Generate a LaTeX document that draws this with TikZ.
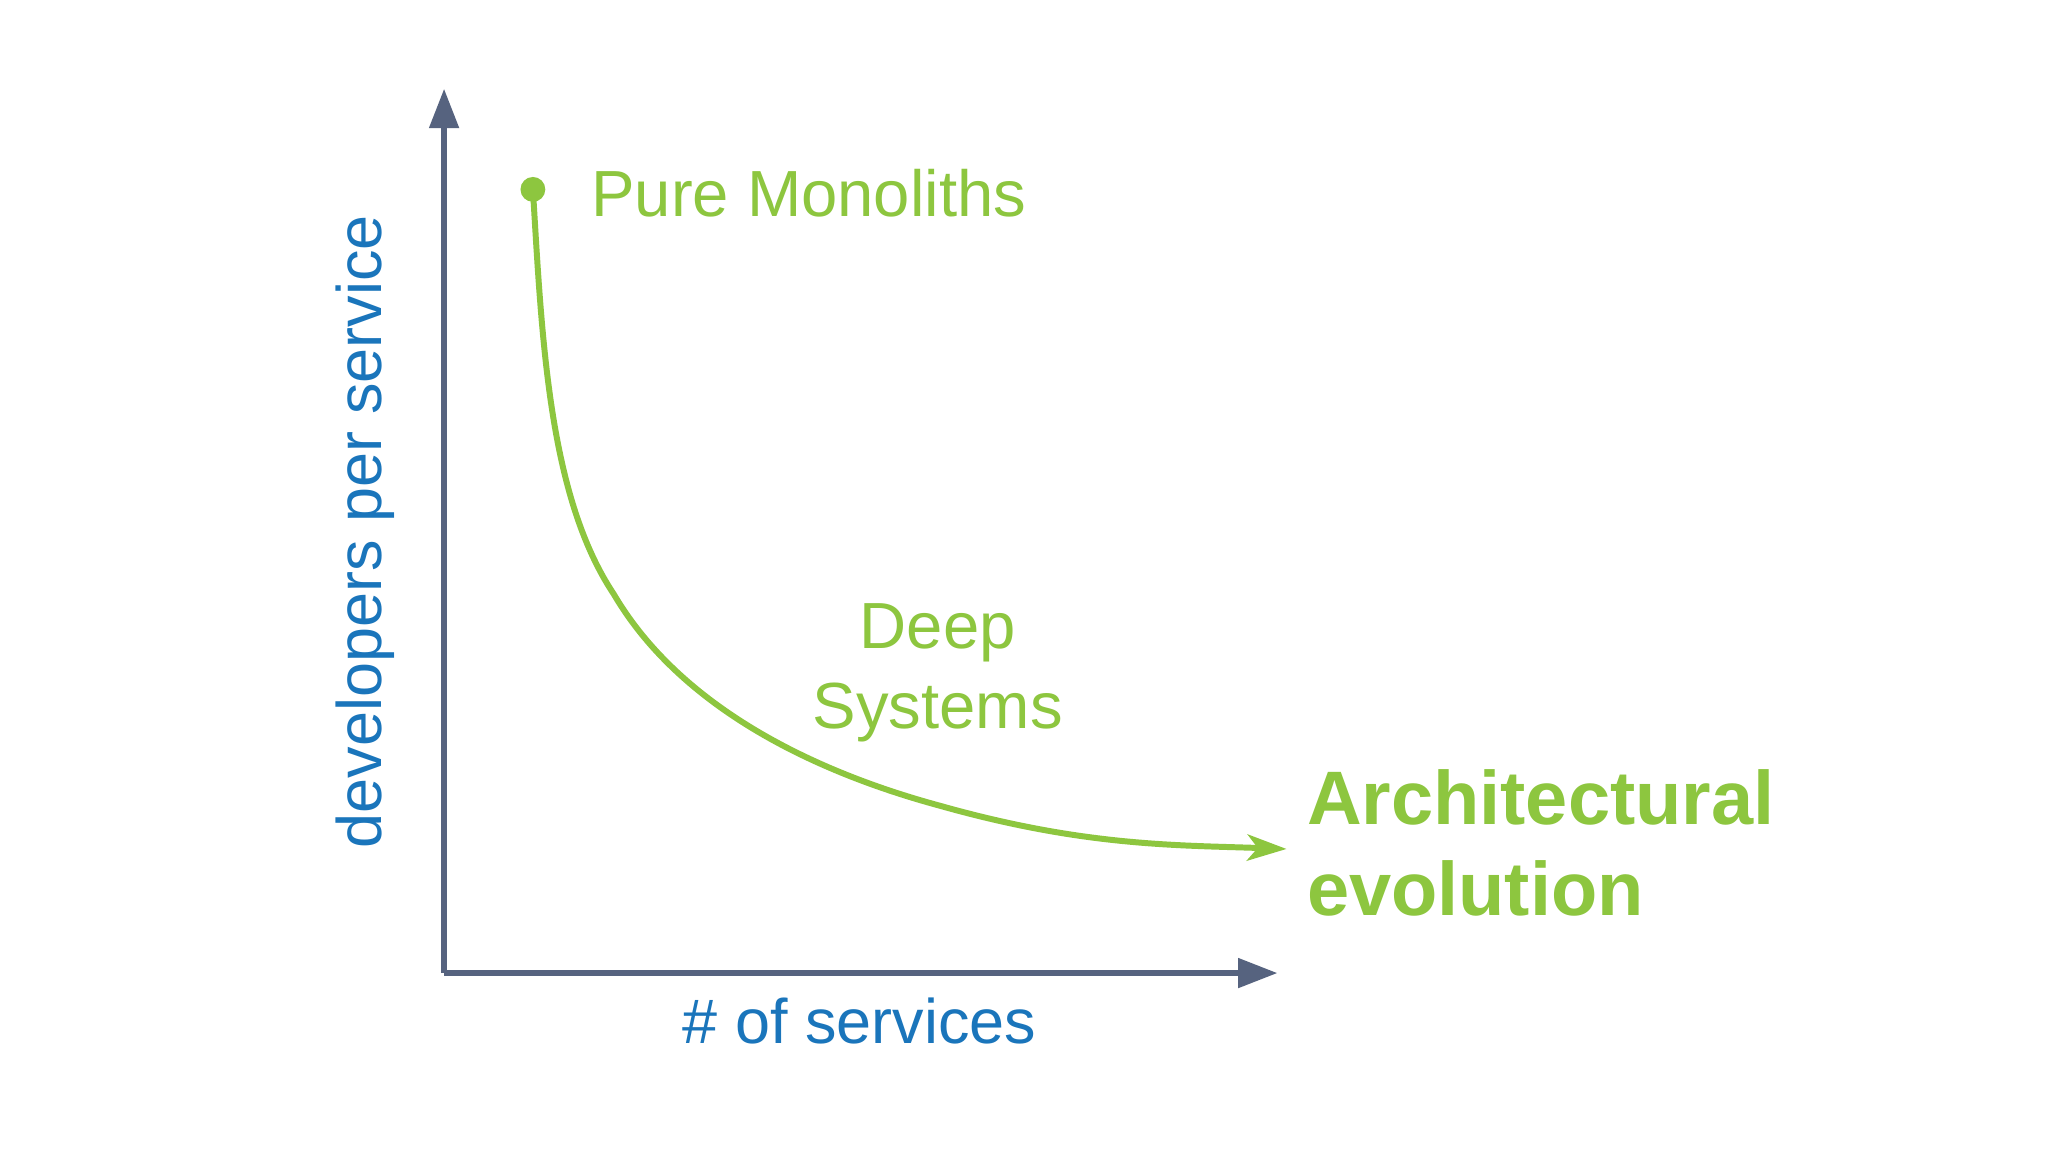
\documentclass[tikz,border=0pt]{standalone}
\usepackage{fontspec}
\setmainfont{Liberation Sans}
\usetikzlibrary{arrows.meta}
\definecolor{axis}{HTML}{56637F}
\definecolor{grn}{HTML}{8DC63F}
\definecolor{blu}{HTML}{1A75BB}
\tikzset{
 axisline/.style={draw=axis,line width=1.2pt,-{Triangle[length=0.3cm,width=0.22cm]}},
 lbl/.style={inner sep=0pt,font=\fontsize{14.2pt}{17pt}\selectfont},
}
\begin{document}
\begin{tikzpicture}[x=0.01cm,y=-0.01cm]
\useasboundingbox[fill=white] (0,0) rectangle (1568,882);
\coordinate (o) at (340,745);
\coordinate (ytop) at (340,68);
\coordinate (xend) at (978,745);
\draw[axisline] (o) -- (ytop);
\draw[axisline] (o) -- (xend);
\node[circle,fill=grn,inner sep=0pt,minimum size=0.19cm] (dot) at (408,145) {};
\coordinate (tip) at (985,650);
\draw[grn,line width=1.3pt,-{Stealth[length=0.3cm,width=0.2cm,inset=0.08cm]}]
  (dot.center) .. controls (415,260) and (420,380) .. (470,455)
  .. controls (520,540) and (620,590) .. (720,617)
  .. controls (830,648) and (900,647) .. (tip);
\node[lbl,text=grn,anchor=west] (pm) at (452,148) {Pure Monoliths};
\node[lbl,text=grn,align=center,font=\fontsize{14.2pt}{17.3pt}\selectfont] (ds) at (718,515) {Deep\\Systems};
\node[lbl,text=grn,anchor=west,align=left,font=\bfseries\fontsize{16.5pt}{19.8pt}\selectfont] (ae) at (1000,645) {Architectural\\evolution};
\node[lbl,text=blu,font=\fontsize{13.7pt}{16pt}\selectfont] (xl) at (658,782) {\# of services};
\node[lbl,text=blu,rotate=90,font=\fontsize{13.7pt}{16pt}\selectfont] (yl) at (280,407) {developers per service};
\end{tikzpicture}
\end{document}
